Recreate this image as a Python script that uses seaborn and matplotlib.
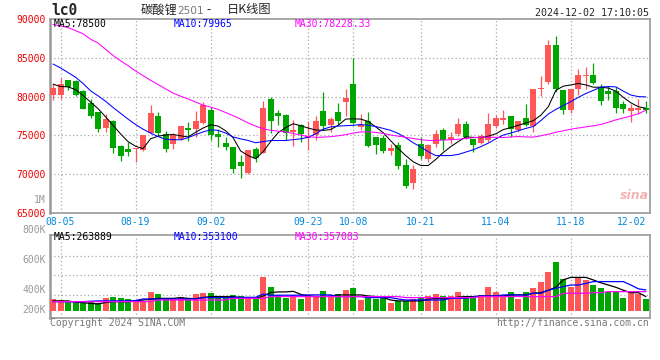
import numpy as np
import pandas as pd
import matplotlib
matplotlib.use("Agg")
import matplotlib.pyplot as plt
import matplotlib.transforms as mtransforms
import seaborn as sns

# trading days shown (08-02 .. 12-02, exchange holidays removed)
holidays = ["2024-09-16", "2024-09-17", "2024-10-01", "2024-10-02",
            "2024-10-03", "2024-10-04", "2024-10-07"]
dates = [d for d in pd.bdate_range("2024-08-02", "2024-12-02")
         if d.strftime("%Y-%m-%d") not in holidays]
tick_labels = ["08-05", "08-19", "09-02", "09-23", "10-08",
               "10-21", "11-04", "11-18", "12-02"]

opens = [80150, 80150, 82080, 81950, 80710, 79170, 78000, 75990, 76850, 73590,
         73250, 73250, 73070, 75350, 77450, 75220, 73930, 74490, 75990, 75860,
         76590, 78310, 75220, 74020, 73500, 71530, 70160, 73250, 72730, 79640,
         77880, 77580, 75480, 76290, 74700, 75090, 78090, 76290, 78010, 79290,
         81610, 76050, 76810, 74790, 74660, 72990, 73720, 71140, 68870, 73930,
         71920, 73850, 75650, 74360, 75130, 76510, 74490, 74020, 74360, 76160,
         76940, 77450, 75650, 77280, 76160, 81010, 81870, 86590, 80800, 78220,
         81010, 82600, 82730, 81230, 80670, 80670, 79080, 78140, 78310, 78480]
highs = [81650, 82430, 82170, 82080, 80800, 79720, 78000, 77790, 77020, 73720,
         74150, 73420, 75000, 78870, 78000, 75520, 75300, 76160, 76720, 78140,
         79290, 78650, 75860, 74790, 73500, 72430, 73070, 73500, 79380, 79940,
         78220, 77710, 76940, 76420, 76810, 77450, 80540, 77360, 79170, 81010,
         85000, 77700, 78010, 74790, 75090, 73850, 74150, 72000, 71140, 74790,
         73930, 75650, 75990, 75430, 77280, 76810, 74490, 75220, 77920, 77580,
         78310, 77450, 76810, 78990, 81010, 82600, 87230, 87750, 80800, 81010,
         83580, 83800, 84310, 81570, 81350, 81230, 79380, 79080, 79720, 79380]
lows = [79510, 79700, 80800, 80020, 78350, 77280, 75430, 75430, 72730, 71700,
        72300, 71570, 72950, 75220, 74880, 72860, 73290, 74360, 74230, 74790,
        76510, 74360, 73500, 73070, 70160, 69560, 70070, 71570, 72730, 75300,
        76290, 74360, 73630, 74150, 73070, 74450, 75650, 75430, 76290, 77450,
        76510, 75720, 73500, 72640, 72730, 72430, 70710, 68270, 68050, 72000,
        71570, 73500, 73070, 73930, 74920, 74580, 72860, 73850, 74150, 75990,
        76420, 74790, 75430, 76160, 75430, 80020, 81570, 80580, 77790, 77880,
        80150, 81010, 81650, 78870, 79510, 77880, 77880, 76720, 77790, 77880]
closes = [81100, 81610, 81230, 80150, 78350, 77450, 75860, 77060, 73370, 72350,
          72860, 73420, 75000, 77920, 75300, 73250, 75000, 76160, 75730, 76850,
          78950, 75000, 74790, 73500, 70670, 71060, 73070, 72130, 78480, 76850,
          77490, 75350, 75730, 75220, 74880, 76850, 76210, 77060, 76850, 79810,
          76590, 76360, 73590, 73800, 72990, 73370, 71010, 68480, 70630, 72300,
          73720, 75220, 74360, 74790, 76510, 74790, 73720, 74880, 76510, 77280,
          77280, 75860, 76810, 76290, 81010, 81140, 86590, 81010, 78310, 81010,
          82730, 82770, 81780, 79380, 80370, 78570, 78350, 78480, 78570, 78310]

ma5 = [81600, 81300, 81250, 80900, 80150, 79300, 78450, 77400, 76300, 75200,
       74200, 73600, 73300, 74560, 74900, 75050, 75120, 74950, 74800, 75400,
       75950, 76370, 76200, 75600, 74700, 73000, 72400, 72000, 72900, 74200,
       75350, 76000, 76500, 76250, 75950, 75700, 75650, 75750, 76300, 77100,
       77140, 77100, 76800, 76100, 75350, 74300, 73300, 72400, 71600, 71120,
       71120, 71900, 72800, 73550, 74200, 74800, 74750, 74700, 74900, 75200,
       75750, 76000, 76300, 76600, 76900, 77600, 78700, 80800, 81350, 81500,
       81700, 81500, 81210, 81210, 81100, 80700, 79900, 79200, 78700, 78500]
ma10 = [84200, 83700, 83100, 82500, 81700, 80750, 80100, 79400, 78600, 77850,
        77100, 76400, 75800, 75300, 74850, 74500, 74450, 74430, 74700, 75100,
        75450, 75720, 75650, 75300, 74800, 74550, 74350, 74050, 74200, 74340,
        74340, 74340, 74450, 74560, 74750, 75200, 75800, 76100, 76200, 76250,
        76300, 76400, 76300, 76150, 75900, 75650, 75250, 74700, 74050, 73500,
        72900, 72400, 72400, 72400, 72550, 72850, 73150, 73550, 74000, 74550,
        75050, 75300, 75600, 75900, 76150, 76900, 77750, 78350, 78850, 79350,
        79900, 80400, 80800, 81220, 81300, 81250, 80700, 80200, 80000, 79965]
ma30 = [89300, 89100, 88900, 88500, 88100, 87400, 86900, 86100, 85300, 84600,
        84000, 83300, 82700, 82100, 81550, 81000, 80450, 80050, 79700, 79300,
        78900, 78650, 78350, 77950, 77550, 77100, 76600, 76200, 75850, 75650,
        75550, 75450, 75250, 75050, 74850, 74750, 74780, 74830, 74950, 75100,
        75300, 75450, 75450, 75400, 75250, 75050, 74900, 74750, 74600, 74450,
        74350, 74350, 74400, 74450, 74500, 74600, 74700, 74770, 74770, 74750,
        74720, 74800, 74850, 74800, 74780, 74950, 75150, 75400, 75600, 75800,
        75950, 76100, 76250, 76400, 76700, 77000, 77250, 77500, 77800, 78230]

# volume, thousands
volume = [342, 335, 329, 313, 318, 329, 318, 349, 356, 349,
          342, 331, 331, 389, 375, 347, 347, 353, 347, 375,
          384, 384, 358, 347, 366, 362, 358, 340, 489, 422,
          366, 351, 366, 340, 366, 358, 396, 358, 375, 402,
          415, 335, 358, 342, 347, 318, 329, 329, 342, 347,
          362, 375, 362, 362, 389, 347, 347, 366, 422, 389,
          362, 389, 342, 389, 415, 455, 522, 589, 473, 422,
          484, 469, 435, 415, 389, 389, 349, 389, 375, 342]
vol_ma5 = [329, 329, 329, 320, 318, 312, 309, 318, 324, 324,
           324, 330, 335, 340, 346, 346, 346, 351, 346, 344,
           352, 358, 358, 358, 358, 350, 346, 346, 362, 385,
           389, 389, 393, 373, 362, 358, 358, 362, 369, 369,
           369, 369, 362, 358, 351, 335, 329, 329, 329, 329,
           340, 346, 346, 346, 355, 358, 358, 362, 362, 362,
           362, 369, 369, 369, 380, 384, 400, 420, 470, 486,
           486, 486, 469, 450, 435, 420, 400, 384, 384, 358]
vol_ma10 = [324, 324, 324, 324, 324, 327, 329, 329, 329, 329,
            329, 331, 342, 342, 342, 342, 342, 342, 342, 342,
            351, 351, 351, 351, 353, 353, 353, 353, 375, 367,
            367, 367, 367, 367, 369, 369, 369, 369, 358, 358,
            358, 358, 351, 351, 351, 351, 342, 335, 335, 335,
            335, 335, 335, 346, 346, 346, 355, 362, 362, 362,
            369, 369, 369, 369, 380, 380, 400, 413, 425, 435,
            435, 446, 458, 458, 458, 458, 458, 435, 410, 402]
vol_ma30 = [324] * 14 + [335] * 10 + [346] * 5 + [358] * 18 + [351] * 10 \
    + [358] * 11 + [380] * 4 + [384] * 2 + [391] * 6

legend_main = ["MA5:78500", "MA10:79965", "MA30:78228.33"]
legend_vol = ["MA5:263889", "MA10:353100", "MA30:357083"]

RED, GREEN = "#ff5757", "#00a600"
MA_COLORS = ["#000000", "#0000ff", "#ff00ff"]
GRID = dict(color="#aaaaaa", lw=0.9, ls=(0, (1, 2)), zorder=0)

sns.set_theme(style="white")
plt.rcParams["font.family"] = ["DejaVu Sans Mono", "Noto Sans CJK SC"]

W, H = 660, 360
fig = plt.figure(figsize=(W / 100, H / 100), dpi=100)


def px(x, y):
    return x / W, 1 - y / H


ax = fig.add_axes([50 / W, 1 - 213 / H, 600 / W, 194 / H])
axv = fig.add_axes([50 / W, 1 - 318 / H, 600 / W, 83.3 / H])

x = np.arange(len(dates))
o, hi, lo, c = map(np.array, (opens, highs, lows, closes))
colors = np.where(c >= o, RED, GREEN)

labels_all = [d.strftime("%m-%d") for d in dates]
tick_pos = [labels_all.index(t) for t in tick_labels]

# grid
for a in (ax, axv):
    for p in tick_pos[:-1]:
        a.axvline(p, **GRID)
for yv in [70000, 75000, 80000, 85000]:
    ax.axhline(yv, **GRID)
for yv in [368e3, 502e3, 631e3]:
    axv.axhline(yv, **GRID)

# candles
ax.vlines(x, lo, hi, colors=colors, lw=0.9, zorder=2)
ax.bar(x, np.maximum(np.abs(c - o), 130), bottom=np.minimum(o, c),
       width=0.8, color=colors, linewidth=0, zorder=3)
for ma, col in zip([ma5, ma10, ma30], MA_COLORS):
    sns.lineplot(x=x, y=ma, ax=ax, color=col, lw=0.75, estimator=None, zorder=4)

ax.set_xlim(-0.4, 79.55)
ax.set_ylim(65000, 90000)
ax.set_yticks(np.arange(65000, 90001, 5000))
ax.set_yticklabels([str(v) for v in range(65000, 90001, 5000)], color="#ee0000", fontsize=7)
ax.set_xticks(tick_pos)
ax.set_xticklabels(tick_labels, color="#0088dd", fontsize=7)
ax.get_xticklabels()[-1].set_ha("right")
ax.tick_params(length=0, pad=3)
ax.set_xlabel("")
ax.set_ylabel("")

# volume
vol = np.array(volume) * 1000
base = 262e3
axv.bar(x, vol - base, bottom=base, width=0.8, color=colors, linewidth=0, zorder=3)
for ma, col in zip([vol_ma5, vol_ma10, vol_ma30], MA_COLORS):
    sns.lineplot(x=x, y=np.array(ma) * 1000, ax=axv, color=col, lw=0.9,
                 estimator=None, zorder=4)
axv.set_xlim(-0.4, 79.55)
axv.set_ylim(215e3, 771e3)
axv.set_xticks([])
axv.set_yticks([])
axv.set_xlabel("")
axv.set_ylabel("")
trans = mtransforms.blended_transform_factory(axv.transAxes, axv.transData)
for lab, yv in [("1M", 1e6), ("800K", 8e5), ("600K", 6e5), ("400K", 4e5), ("200K", 267e3)]:
    axv.text(-4 / 600, yv, lab, transform=trans, ha="right", va="center",
             color="#999999", fontsize=7, clip_on=False)

for a in (ax, axv):
    for side, sp in a.spines.items():
        sp.set_visible(True)
        sp.set_color("#999999")
        sp.set_linewidth(1.8 if side == "left" else 1.2)

# legends
for texts, yy in [(legend_main, 24), (legend_vol, 237.5)]:
    for t, xx, col in zip(texts, [54, 174, 294.7], MA_COLORS):
        fig.text(*px(xx, yy), t, color=col, fontsize=7, va="center", ha="left")

# header
fig.text(*px(51, 10.5), "lc0", fontsize=10.5, fontweight="bold", va="center", ha="left")
cjk = ["Noto Sans CJK SC", "DejaVu Sans"]
fig.text(*px(140.5, 10), "碳酸锂", family=cjk, fontsize=8.8, va="center", ha="left")
fig.text(*px(177.3, 10.5), "2501", family=["DejaVu Sans"], fontsize=7.6,
         color="#777777", va="center", ha="left")
fig.text(*px(206, 10), "-", family=cjk, fontsize=8.8, va="center", ha="left")
fig.text(*px(226.5, 10), "日K线图", family=cjk, fontsize=8.8, va="center", ha="left")
fig.text(*px(649, 12.5), "2024-12-02 17:10:05", fontsize=7.2, va="center", ha="right")

# footer
fig.text(*px(50, 323), "Copyright 2024 SINA.COM", color="#777777", fontsize=7,
         va="center", ha="left")
fig.text(*px(649, 323), "http://finance.sina.com.cn", color="#777777", fontsize=7,
         va="center", ha="right")
fig.text(*px(634, 196), "sina", family=["DejaVu Sans"], style="italic",
         fontweight="bold", color="#f2b3b3", fontsize=9, va="center", ha="center")

fig.savefig("out.png", dpi=100)
